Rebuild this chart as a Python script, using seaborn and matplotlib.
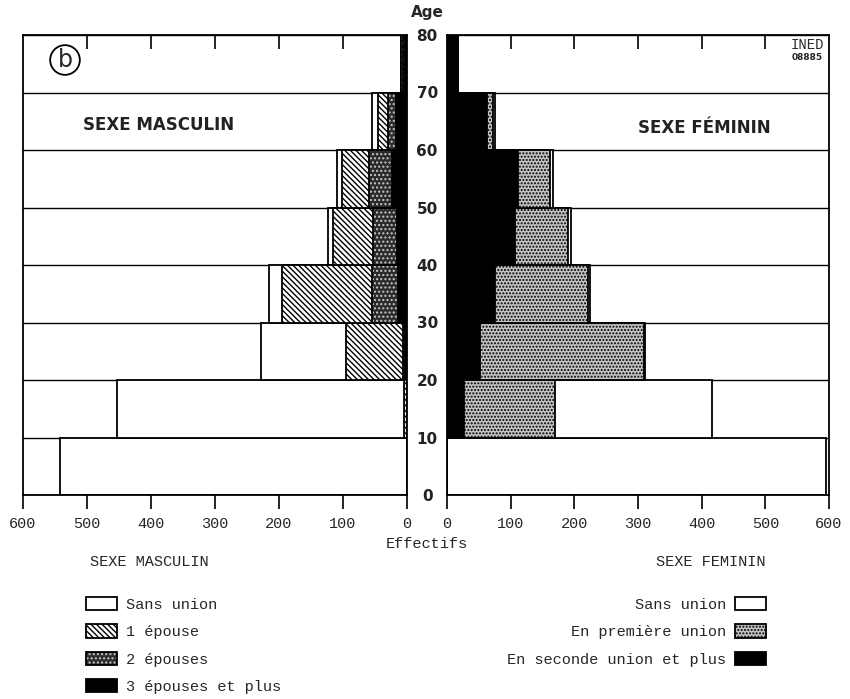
import numpy as np
import pandas as pd
import matplotlib
matplotlib.use("Agg")
import matplotlib.pyplot as plt
from matplotlib.patches import Patch
import seaborn as sns

# ---------------- data ----------------
age_mid = [5, 15, 25, 35, 45, 55, 65, 75]
age_ticks = [0, 10, 20, 30, 40, 50, 60, 70, 80]
x_ticks = [0, 100, 200, 300, 400, 500, 600]

# Sexe masculin
m_sans_union = [542, 449, 133, 20, 9, 8, 8, 0]
m_1_epouse = [0, 4, 89, 141, 62, 42, 16, 2]
m_2_epouses = [0, 0, 3, 41, 37, 37, 13, 4]
m_3_epouses = [0, 0, 3, 14, 16, 23, 17, 3]

# Sexe féminin
f_sans_union = [595, 246, 2, 3, 5, 5, 3, 0]
f_premiere = [0, 143, 257, 146, 83, 50, 9, 0]
f_seconde = [0, 27, 52, 75, 107, 111, 63, 18]

m_labels = ["Sans union", "1 épouse", "2 épouses", "3 épouses et plus"]
f_labels = ["Sans union", "En première union", "En seconde union et plus"]

# ---------------- style ----------------
sns.set_theme(style="white")
plt.rcParams["font.family"] = ["DejaVu Sans"]
plt.rcParams["hatch.linewidth"] = 1.0
MONO = "Liberation Mono"

fig = plt.figure(figsize=(8.5, 6.99), dpi=100)
W, H = 850, 699
axL = fig.add_axes([23 / W, 1 - 495 / H, 384 / W, 460 / H])
axR = fig.add_axes([447 / W, 1 - 495 / H, 382 / W, 460 / H])

EDGE_LW = 1.3
HATCH1 = "\\" * 6
DARK = "#2b2b2b"
LIGHT = "#c4c4c4"


def layer(ax, values, kind):
    vals = np.asarray(values, dtype=float)
    df = pd.DataFrame({"age": age_mid, "n": vals})
    if kind == "white":
        sns.barplot(data=df, x="n", y="age", orient="h", native_scale=True,
                    width=1, color="white", saturation=1, edgecolor="black",
                    linewidth=EDGE_LW, ax=ax, zorder=2)
    elif kind == "hatch":
        sns.barplot(data=df, x="n", y="age", orient="h", native_scale=True,
                    width=1, color="white", saturation=1, edgecolor="black",
                    linewidth=EDGE_LW, ax=ax, zorder=2)
        for p in ax.containers[-1]:
            p.set_hatch(HATCH1)
    elif kind == "darkdot":
        sns.barplot(data=df, x="n", y="age", orient="h", native_scale=True,
                    width=1, color=DARK, saturation=1, ax=ax, zorder=2)
        for p in ax.containers[-1]:
            p.set_edgecolor("#c8c8c8")
            p.set_linewidth(0)
            p.set_hatch("....")
        sns.barplot(data=df, x="n", y="age", orient="h", native_scale=True,
                    width=1, color="black", fill=False, linewidth=EDGE_LW,
                    ax=ax, zorder=2)
    elif kind == "lightdot":
        sns.barplot(data=df, x="n", y="age", orient="h", native_scale=True,
                    width=1, color=LIGHT, saturation=1, edgecolor="black",
                    linewidth=EDGE_LW, ax=ax, zorder=2)
        for p in ax.containers[-1]:
            p.set_hatch(".....")
    elif kind == "black":
        sns.barplot(data=df, x="n", y="age", orient="h", native_scale=True,
                    width=1, color="black", saturation=1, edgecolor="black",
                    linewidth=EDGE_LW, ax=ax, zorder=2)


# male layers (outermost first)
m_c3 = np.array(m_3_epouses)
m_c2 = m_c3 + np.array(m_2_epouses)
m_c1 = m_c2 + np.array(m_1_epouse)
m_tot = m_c1 + np.array(m_sans_union)
layer(axL, m_tot, "white")
layer(axL, m_c1, "hatch")
layer(axL, m_c2, "darkdot")
layer(axL, m_c3, "black")

# female layers
f_c2 = np.array(f_seconde)
f_c1 = f_c2 + np.array(f_premiere)
f_tot = f_c1 + np.array(f_sans_union)
layer(axR, f_tot, "white")
layer(axR, f_c1, "lightdot")
layer(axR, f_c2, "black")

for ax in (axL, axR):
    ax.set_ylim(0, 80)
    ax.set_yticks(age_ticks)
    ax.yaxis.grid(True, color="black", lw=1.0)
    ax.xaxis.grid(False)
    ax.set_axisbelow(True)
    ax.set_xticks(x_ticks)
    ax.set_xticklabels([str(v) for v in x_ticks], fontfamily=MONO, fontsize=11)
    ax.tick_params(axis="x", direction="out", length=10, width=1.2,
                   color="black", pad=6, bottom=True)
    ax.set_xlabel("")
    ax.set_ylabel("")
    for s in ax.spines.values():
        s.set_visible(True)
        s.set_color("black")
        s.set_linewidth(1.3)
    sec = ax.secondary_xaxis("top")
    sec.set_xticks(x_ticks[1:-1])
    sec.tick_params(direction="in", length=10, width=1.2, color="black",
                    labeltop=False)
    for s in sec.spines.values():
        s.set_visible(False)

axL.set_xlim(600, 0)
axR.set_xlim(0, 600)

# age labels between panels
axL.yaxis.tick_right()
axL.tick_params(axis="y", length=0, pad=14.5, labelsize=11)
axL.set_yticklabels([str(a) for a in age_ticks], ha="center",
                    fontweight="bold", color="#222222")
axR.tick_params(axis="y", left=False, labelleft=False, length=0)

fig.text(427 / W, 1 - 12 / H, "Age", ha="center", va="center",
         fontsize=11, fontweight="bold")
fig.text(427 / W, 1 - 544 / H, "Effectifs", ha="center", va="center",
         fontsize=11, fontfamily=MONO)

# in-panel titles
fig.text(83 / W, 1 - 125 / H, "SEXE MASCULIN", ha="left", va="center",
         fontsize=12, fontweight="bold", color="#222222")
fig.text(638 / W, 1 - 128 / H, "SEXE FÉMININ", ha="left", va="center",
         fontsize=12, fontweight="bold", color="#222222")

# circled b
fig.text(65 / W, 1 - 60 / H, "b", ha="center", va="center", fontsize=17,
         bbox=dict(boxstyle="circle,pad=0.12", fc="white", ec="black", lw=1.3))

# INED mark
fig.text(807 / W, 1 - 45 / H, "INED", ha="center", va="center", fontsize=10,
         fontfamily=MONO)
fig.text(807 / W, 1 - 58 / H, "08885", ha="center", va="center", fontsize=6.5,
         fontweight="bold")

# lower labels
fig.text(90 / W, 1 - 562 / H, "SEXE MASCULIN", ha="left", va="center",
         fontsize=11, fontfamily=MONO)
fig.text(765 / W, 1 - 562 / H, "SEXE FEMININ", ha="right", va="center",
         fontsize=11, fontfamily=MONO)

# legends
def dark_handle():
    return (Patch(facecolor=DARK, edgecolor="#c8c8c8", hatch="....", lw=0),
            Patch(fill=False, edgecolor="black", lw=EDGE_LW))

m_handles = [Patch(facecolor="white", edgecolor="black", lw=EDGE_LW),
             Patch(facecolor="white", edgecolor="black", hatch=HATCH1, lw=EDGE_LW),
             dark_handle(),
             Patch(facecolor="black", edgecolor="black", lw=EDGE_LW)]
f_handles = [Patch(facecolor="white", edgecolor="black", lw=EDGE_LW),
             Patch(facecolor=LIGHT, edgecolor="black", hatch=".....", lw=EDGE_LW),
             Patch(facecolor="black", edgecolor="black", lw=EDGE_LW)]

leg_kw = dict(frameon=False, handlelength=2.0, handleheight=0.95,
              labelspacing=0.82, handletextpad=0.6, borderpad=0,
              borderaxespad=0, prop={"family": MONO, "size": 11})
legL = fig.legend(m_handles, m_labels, loc="upper left",
                  bbox_to_anchor=(86 / W, 1 - 597 / H), **leg_kw)
legR = fig.legend(f_handles, f_labels, loc="upper right",
                  bbox_to_anchor=(766 / W, 1 - 597 / H), markerfirst=False,
                  **leg_kw)

fig.savefig("out.png", dpi=100, facecolor="white")
